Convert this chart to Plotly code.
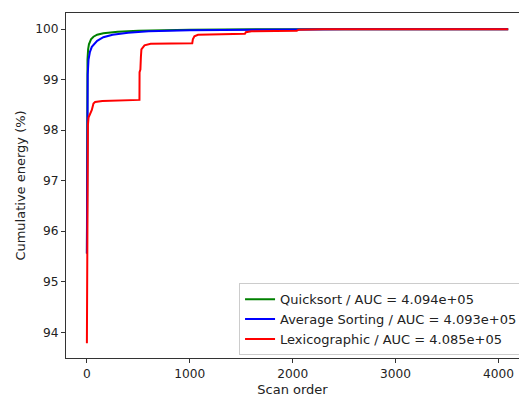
import plotly.graph_objects as go

# Quicksort series (scan order, cumulative energy %)
quick_x = [0, 1, 3, 6, 12, 20, 40, 64, 100, 160, 300, 500, 1000, 2000, 4095]
quick_y = [95.56, 98.0, 99.0, 99.4, 99.6, 99.7, 99.8, 99.85, 99.89, 99.92, 99.95, 99.97, 99.99, 100.0, 100.0]

# Average Sorting series
avg_x = [0, 1, 3, 8, 16, 30, 48, 80, 100, 160, 250, 400, 600, 1000, 1500, 2500, 4095]
avg_y = [95.56, 97.5, 98.5, 99.1, 99.4, 99.55, 99.65, 99.73, 99.77, 99.84, 99.89, 99.93, 99.96, 99.98, 99.99, 100.0, 100.0]

# Lexicographic series
lex_x = [0, 2, 5, 10, 16, 30, 48, 64, 80, 150, 511, 512, 520, 525, 530, 560, 620,
         1024, 1030, 1045, 1080, 1536, 1545, 1600, 2040, 2060, 2300, 4095]
lex_y = [93.78, 96.5, 97.8, 98.1, 98.25, 98.32, 98.4, 98.53, 98.56, 98.58, 98.6, 99.15, 99.2, 99.45,
         99.6, 99.68, 99.71, 99.72, 99.8, 99.86, 99.89, 99.91, 99.94, 99.96, 99.97, 99.99, 100.0, 100.0]

series_names = ["Quicksort / AUC = 4.094e+05",
                "Average Sorting / AUC = 4.093e+05",
                "Lexicographic / AUC = 4.085e+05"]
series_colors = ["#008000", "#0000ff", "#ff0000"]

x_ticks = [0, 1000, 2000, 3000, 4000]
y_ticks = [94, 95, 96, 97, 98, 99, 100]

fig = go.Figure()
for xs, ys, name, color in zip([quick_x, avg_x, lex_x], [quick_y, avg_y, lex_y],
                               series_names, series_colors):
    fig.add_trace(go.Scatter(x=xs, y=ys, mode="lines", name=name,
                             line=dict(color=color, width=2)))

axis_common = dict(showgrid=False, zeroline=False, showline=True, linecolor="#333333",
                   linewidth=1, ticks="outside", ticklen=4, tickcolor="#333333",
                   automargin=False,
                   tickfont=dict(family="DejaVu Sans", size=12.2, color="#222222"))

fig.update_layout(
    width=519, height=397,
    margin=dict(l=66, r=0, t=13, b=39, autoexpand=False),
    paper_bgcolor="white", plot_bgcolor="white",
    font=dict(family="DejaVu Sans", size=13, color="#222222"),
    xaxis=dict(range=[-203, 4200], tickvals=x_ticks, mirror=True,
               title=dict(text="Scan order", font=dict(size=13), standoff=7), **axis_common),
    yaxis=dict(range=[93.49, 100.32], tickvals=y_ticks, mirror=False,
               title=dict(text="Cumulative energy (%)", font=dict(size=13), standoff=6), **axis_common),
    legend=dict(x=0.382, y=0.008, xanchor="left", yanchor="bottom",
                bgcolor="rgba(255,255,255,0.8)", bordercolor="#cccccc", borderwidth=1,
                font=dict(family="DejaVu Sans", size=13, color="#222222"),
                tracegroupgap=0, itemwidth=30),
    showlegend=True,
)

fig.write_html("out.html")
